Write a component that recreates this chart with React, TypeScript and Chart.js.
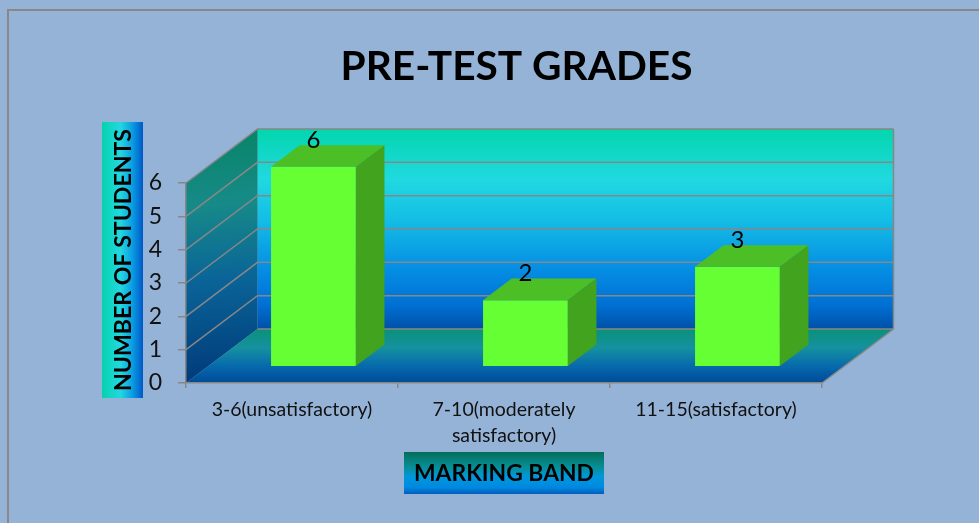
import React, { useEffect, useRef } from 'react';
import { Chart, registerables } from 'chart.js';

Chart.register(...registerables);

// ---- data ----
const categories: (string | string[])[] = [
  '3-6(unsatisfactory)',
  ['7-10(moderately', 'satisfactory)'],
  '11-15(satisfactory)',
];
const students = [6, 2, 3];
const yMin = 0;
const yMax = 6;
const yStep = 1;
const chartTitle = 'PRE-TEST GRADES';
const yAxisTitle = 'NUMBER OF STUDENTS';
const xAxisTitle = 'MARKING BAND';

// ---- style ----
const FONT = 'Lato, "Open Sans", sans-serif';
const BG = '#95B3D7';
const GRID = '#878787';
const DX = 71.5; // 3D depth offset of the plot box
const DY = -54;
const BAR_FRONT = 0.3; // bar front position inside depth
const BAR_DEPTH = 0.4; // bar depth fraction

function fitFont(ctx: CanvasRenderingContext2D, text: string, weight: string, target: number): string {
  ctx.font = `${weight} 100px ${FONT}`;
  const w = ctx.measureText(text).width;
  const size = (100 * target) / w;
  return `${weight} ${size.toFixed(2)}px ${FONT}`;
}

const threeD = {
  id: 'threeD',
  beforeDraw(chart: any) {
    const ctx: CanvasRenderingContext2D = chart.ctx;
    const W = chart.width;
    const H = chart.height;
    ctx.save();
    ctx.fillStyle = BG;
    ctx.fillRect(0, 0, W, H);
    ctx.strokeStyle = '#888888';
    ctx.lineWidth = 2;
    ctx.strokeRect(8, 10, W + 20, H + 20);

    // Title
    ctx.fillStyle = '#000';
    ctx.font = fitFont(ctx, chartTitle, 'bold', 352);
    ctx.textAlign = 'center';
    ctx.textBaseline = 'alphabetic';
    ctx.fillText(chartTitle, 516.5, 80);

    // Y axis title box
    let g = ctx.createLinearGradient(102, 0, 143, 0);
    g.addColorStop(0, '#05D2AC');
    g.addColorStop(0.45, '#22D8E0');
    g.addColorStop(0.75, '#0A9BE0');
    g.addColorStop(1, '#0058C8');
    ctx.fillStyle = g;
    ctx.fillRect(102, 122, 41, 276);
    ctx.save();
    ctx.translate(123, 260);
    ctx.rotate(-Math.PI / 2);
    ctx.fillStyle = '#000';
    ctx.font = fitFont(ctx, yAxisTitle, 'bold', 262);
    ctx.textAlign = 'center';
    ctx.textBaseline = 'middle';
    ctx.fillText(yAxisTitle, 0, 1);
    ctx.restore();

    // X axis title box
    g = ctx.createLinearGradient(0, 452, 0, 494);
    g.addColorStop(0, '#046E5A');
    g.addColorStop(0.35, '#078E94');
    g.addColorStop(0.6, '#0098DC');
    g.addColorStop(0.85, '#0088E0');
    g.addColorStop(1, '#005CBC');
    ctx.fillStyle = g;
    ctx.fillRect(404, 452, 200, 42);
    ctx.fillStyle = '#000';
    ctx.font = fitFont(ctx, xAxisTitle, 'bold', 180);
    ctx.textAlign = 'center';
    ctx.textBaseline = 'middle';
    ctx.fillText(xAxisTitle, 504, 474);

    // 3D walls from the scales
    const xs = chart.scales.x;
    const ys = chart.scales.y;
    const L = xs.left;
    const R = xs.right;
    const y0 = ys.getPixelForValue(yMin);
    const yT = ys.getPixelForValue(yMax);

    // back wall
    g = ctx.createLinearGradient(0, yT + DY, 0, y0 + DY);
    g.addColorStop(0, '#03D6AE');
    g.addColorStop(0.25, '#20D9E0');
    g.addColorStop(0.45, '#14BEE5');
    g.addColorStop(0.7, '#058EE4');
    g.addColorStop(0.88, '#0070D4');
    g.addColorStop(1, '#0050A8');
    ctx.fillStyle = g;
    ctx.fillRect(L + DX, yT + DY, R - L, y0 - yT);

    // left wall
    g = ctx.createLinearGradient(L, yT + DY, L + 20, y0);
    g.addColorStop(0, '#078466');
    g.addColorStop(0.3, '#178A88');
    g.addColorStop(0.6, '#0A6498');
    g.addColorStop(1, '#003A7A');
    ctx.fillStyle = g;
    ctx.beginPath();
    ctx.moveTo(L, y0);
    ctx.lineTo(L, yT);
    ctx.lineTo(L + DX, yT + DY);
    ctx.lineTo(L + DX, y0 + DY);
    ctx.closePath();
    ctx.fill();

    // floor
    g = ctx.createLinearGradient(0, y0 + DY, 0, y0);
    g.addColorStop(0, '#0A9178');
    g.addColorStop(0.35, '#1591A0');
    g.addColorStop(0.7, '#0668AC');
    g.addColorStop(1, '#004A96');
    ctx.fillStyle = g;
    ctx.beginPath();
    ctx.moveTo(L, y0);
    ctx.lineTo(R, y0);
    ctx.lineTo(R + DX, y0 + DY);
    ctx.lineTo(L + DX, y0 + DY);
    ctx.closePath();
    ctx.fill();

    // gridlines
    ctx.strokeStyle = GRID;
    ctx.lineWidth = 1.5;
    for (let v = yMin; v <= yMax; v += yStep) {
      const y = ys.getPixelForValue(v);
      ctx.beginPath();
      if (v > yMin) {
        ctx.moveTo(L, y);
        ctx.lineTo(L + DX, y + DY);
      } else {
        ctx.moveTo(L + DX, y + DY);
      }
      ctx.lineTo(R + DX, y + DY);
      ctx.stroke();
    }
    ctx.beginPath();
    ctx.moveTo(R + DX, yT + DY);
    ctx.lineTo(R + DX, y0 + DY);
    ctx.moveTo(R, y0);
    ctx.lineTo(R + DX, y0 + DY);
    ctx.stroke();
    ctx.restore();
  },
  beforeDatasetsDraw(chart: any) {
    const ctx = chart.ctx;
    ctx.save();
    ctx.translate(DX * BAR_FRONT, DY * BAR_FRONT);
  },
  afterDatasetsDraw(chart: any) {
    const ctx: CanvasRenderingContext2D = chart.ctx;
    ctx.restore();
    const ox = DX * BAR_FRONT;
    const oy = DY * BAR_FRONT;
    const dx = DX * BAR_DEPTH;
    const dy = DY * BAR_DEPTH;
    const meta = chart.getDatasetMeta(0);
    ctx.save();
    meta.data.forEach((bar: any, i: number) => {
      const p = bar.getProps(['x', 'y', 'base', 'width'], true);
      const l = p.x - p.width / 2 + ox;
      const r = p.x + p.width / 2 + ox;
      const t = p.y + oy;
      const b = p.base + oy;
      // top face
      ctx.fillStyle = '#4DBF26';
      ctx.beginPath();
      ctx.moveTo(l, t);
      ctx.lineTo(r, t);
      ctx.lineTo(r + dx, t + dy);
      ctx.lineTo(l + dx, t + dy);
      ctx.closePath();
      ctx.fill();
      // side face
      ctx.fillStyle = '#42A31E';
      ctx.beginPath();
      ctx.moveTo(r, t);
      ctx.lineTo(r + dx, t + dy);
      ctx.lineTo(r + dx, b + dy);
      ctx.lineTo(r, b);
      ctx.closePath();
      ctx.fill();
      // value label
      ctx.fillStyle = '#000';
      ctx.font = `24px ${FONT}`;
      ctx.textAlign = 'center';
      ctx.textBaseline = 'middle';
      ctx.fillText(String(students[i]), p.x + ox, t - 27);
    });
    ctx.restore();
  },
};

export default function App() {
  const ref = useRef<HTMLCanvasElement>(null);
  useEffect(() => {
    if (!ref.current) return;
    const chart = new Chart(ref.current, {
      type: 'bar',
      data: {
        labels: categories as any,
        datasets: [
          {
            data: students,
            backgroundColor: '#66FF33',
            borderWidth: 0,
            categoryPercentage: 1,
            barPercentage: 0.4,
          },
        ],
      },
      options: {
        responsive: false,
        animation: false,
        events: [],
        layout: { padding: { left: 126, right: 157, top: 183, bottom: 0 } },
        plugins: {
          legend: { display: false },
          tooltip: { enabled: false },
          title: { display: false },
        },
        scales: {
          x: {
            offset: true,
            grid: {
              offset: true,
              drawOnChartArea: false,
              drawTicks: true,
              tickLength: 5,
              color: GRID,
              lineWidth: 1.5,
            },
            border: { color: GRID, width: 1.5 },
            ticks: {
              color: '#111',
              font: { family: FONT, size: 19.5, lineHeight: 26 / 19.5 },
              padding: 9,
              maxRotation: 0,
              autoSkip: false,
            },
            afterFit: (s: any) => {
              s.height = 140;
            },
          },
          y: {
            min: yMin,
            max: yMax,
            ticks: {
              stepSize: yStep,
              color: '#111',
              font: { family: FONT, size: 23 },
              padding: 16,
            },
            grid: {
              drawOnChartArea: false,
              tickLength: 8,
              color: GRID,
              lineWidth: 1.5,
            },
            border: { color: GRID, width: 1.5 },
            afterFit: (s: any) => {
              s.width = 60;
            },
          },
        },
      },
      plugins: [threeD],
    });
    return () => chart.destroy();
  }, []);
  return (
    <div style={{ position: 'absolute', left: 0, top: 0 }}>
      <canvas ref={ref} width={979} height={523} style={{ display: 'block' }} />
    </div>
  );
}
